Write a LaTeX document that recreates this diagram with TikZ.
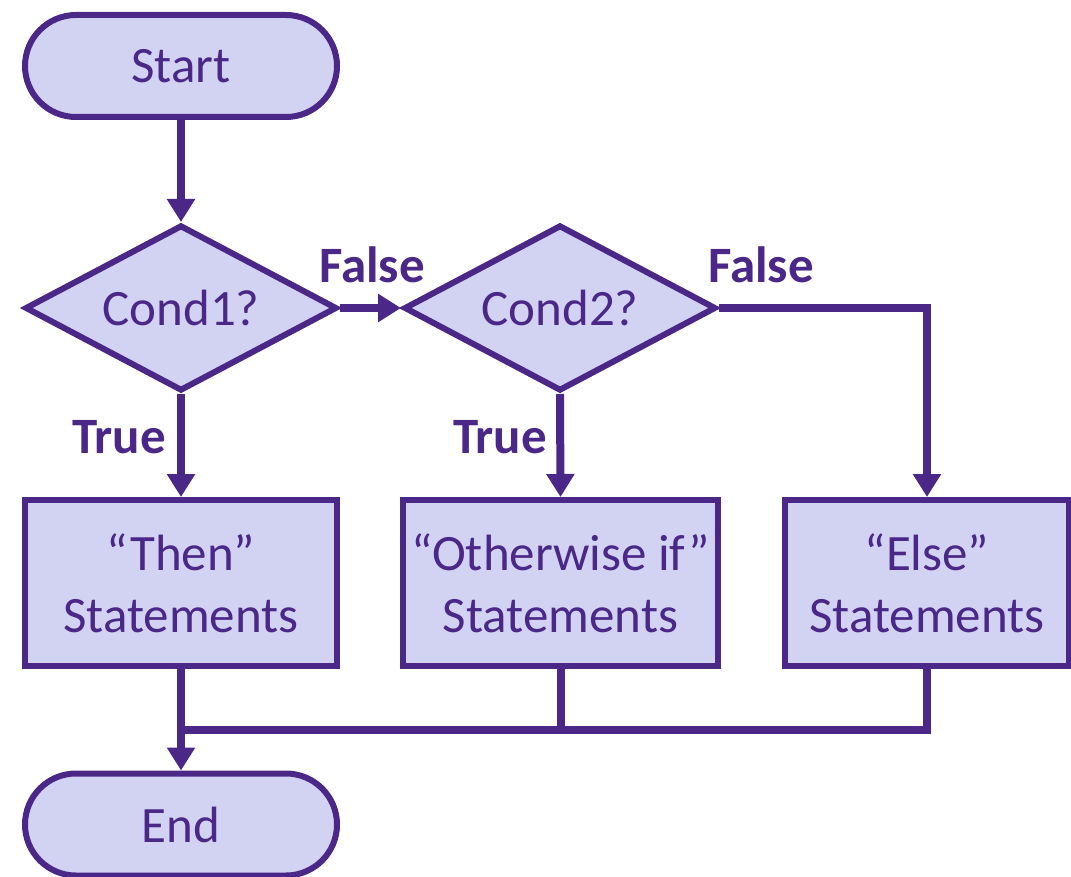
\documentclass[tikz,border=0pt]{standalone}
\usepackage{fontspec}
\setmainfont{Carlito}
\usetikzlibrary{shapes.geometric,arrows.meta}
\definecolor{ink}{RGB}{75,40,135}
\definecolor{lav}{RGB}{210,210,243}
\tikzset{
  base/.style={draw=ink, fill=lav, line width=6pt, text=ink, inner sep=0pt,
    font=\fontsize{51}{62}\selectfont, align=center},
  term/.style={base, rectangle, rounded corners=51pt, minimum width=312pt, minimum height=102pt},
  decision/.style={base, diamond, aspect=1.87, minimum width=312pt, minimum height=166pt},
  stmt/.style={base, rectangle, minimum height=166pt},
  lbl/.style={text=ink, font=\fontsize{51}{60}\selectfont\bfseries, anchor=base, inner sep=0pt},
  conn/.style={draw=ink, line width=8pt, line join=miter},
  arr/.style={conn, -{Triangle[length=23pt,width=27pt]}}
}
\begin{document}
\begin{tikzpicture}[x=1pt,y=-1pt]
\useasboundingbox (0,0) rectangle (1071,877);
\node[term] (start) at (181,66) {Start};
\node[decision] (c1) at (181,308) {Cond1?};
\node[decision] (c2) at (560,308) {Cond2?};
\node[stmt, minimum width=312pt] (then) at (181,583) {“Then”\\Statements};
\node[stmt, minimum width=315pt] (other) at (560.5,583) {“Otherwise if”\\Statements};
\node[stmt, minimum width=284pt] (else) at (927,583) {“Else”\\Statements};
\node[term] (end) at (181,824.5) {End};
\coordinate (j) at (181,730);

\draw[arr] (start) -- (c1);
\draw[arr] (c1.east) -- (c2.west);
\draw[arr] (c2.east) -| (else.north);
\draw[arr] (c1.south) -- (then.north);
\draw[arr] (c2.south) -- (other.north);
\draw[arr] (then.south) -- (end.north);
\draw[conn] (other.south) -- (other.south |- j);
\draw[conn] (else.south) |- (j);

\node[lbl] (f1) at (372,283) {False};
\node[lbl] (f2) at (761,283) {False};
\node[lbl] (t1) at (119,453) {True};
\node[lbl] (t2) at (500,453) {True};
\end{tikzpicture}
\end{document}
